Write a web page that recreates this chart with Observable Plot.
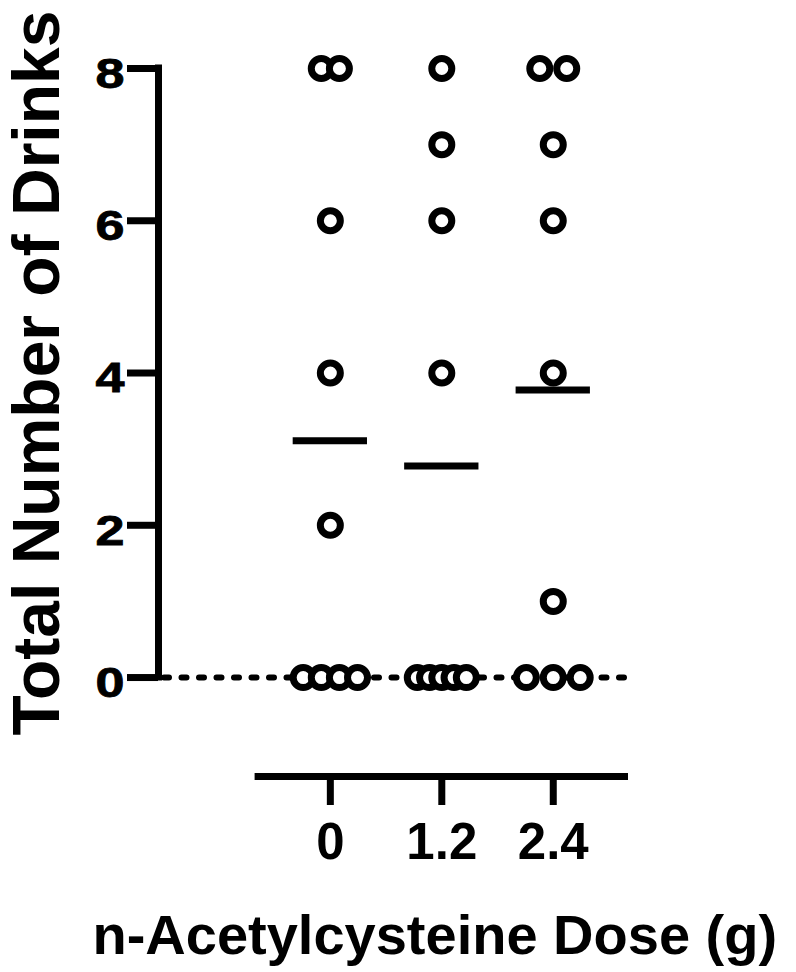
<!DOCTYPE html>
<html>
<head>
<meta charset="utf-8">
<script src="https://cdn.jsdelivr.net/npm/d3@7"></script>
<script src="https://cdn.jsdelivr.net/npm/@observablehq/plot@0.6"></script>
<style>
  html, body { margin: 0; padding: 0; background: white; }
</style>
</head>
<body>
<div id="chart"></div>
<script>
// ---- data ----
const doses = [0, 1.2, 2.4];
const doseLabels = ["0", "1.2", "2.4"];
const drinksDose0 = [8, 8, 6, 4, 2, 0, 0, 0, 0];
const drinksDose12 = [8, 7, 6, 4, 0, 0, 0, 0, 0];
const drinksDose24 = [8, 8, 7, 6, 4, 1, 0, 0, 0];
const yTicks = [0, 2, 4, 6, 8];
const yTickLabels = ["0", "2", "4", "6", "8"];
const xTitle = "n-Acetylcysteine Dose (g)";
const yTitle = "Total Number of Drinks";

// ---- layout / style constants ----
const xDomain = [-1.85, 3.21];
const yDomain = [-1.3, 8];
const xAxisLineStart = -0.81;
const jitterStep = [0.195, 0.132, 0.29]; // horizontal spread of tied points (dose units)
const meanHalfWidth = 0.4;
const font = "'Liberation Sans', Arial, Helvetica, sans-serif";

const groups = [drinksDose0, drinksDose12, drinksDose24];
const points = [];
groups.forEach((vals, g) => {
  const counts = d3.rollup(vals, v => v.length, v => v);
  const seen = new Map();
  vals.forEach(v => {
    const k = counts.get(v);
    const i = seen.get(v) ?? 0;
    seen.set(v, i + 1);
    points.push({dose: doses[g], drinks: v, offset: (i - (k - 1) / 2) * jitterStep[g]});
  });
});
const means = groups.map((vals, g) => ({dose: doses[g], mean: d3.mean(vals)}));

const chart = Plot.plot({
  width: 796,
  height: 972,
  marginLeft: 158,
  marginRight: 168,
  marginTop: 68,
  marginBottom: 196,
  x: {domain: xDomain},
  y: {domain: yDomain},
  style: {fontFamily: font, fontWeight: "bold", color: "black", background: "white"},
  marks: [
    // dotted zero line
    Plot.ruleY([0], {x1: xDomain[0], x2: xDomain[1], stroke: "black", strokeWidth: 6,
      strokeDasharray: "5,12.5", strokeLinecap: "round", strokeDashoffset: -6}),
    // y axis line
    Plot.ruleX([xDomain[0]], {y1: d3.min(yTicks), y2: d3.max(yTicks), stroke: "black", strokeWidth: 7, strokeLinecap: "square"}),
    Plot.axisY(yTicks, {anchor: "left", tickSize: 31, tickPadding: 3, strokeWidth: 7, fontSize: 42,
      tickFormat: d => yTickLabels[yTicks.indexOf(d)], label: null}),
    // x axis line
    Plot.ruleY([yDomain[0]], {x1: xAxisLineStart, x2: xDomain[1], stroke: "black", strokeWidth: 7}),
    Plot.axisX(doses, {anchor: "bottom", tickSize: 29, tickPadding: 17, strokeWidth: 7, fontSize: 51,
      tickFormat: d => doseLabels[doses.indexOf(d)], label: null}),
    // points
    Plot.dot(points, {x: d => d.dose + d.offset, y: "drinks", r: 10, stroke: "black", strokeWidth: 7, fill: "white"}),
    // means
    Plot.ruleY(means, {y: "mean", x1: d => d.dose - meanHalfWidth, x2: d => d.dose + meanHalfWidth, stroke: "black", strokeWidth: 7}),
    // titles
    Plot.text([yTitle], {x: xDomain[0], y: (d3.min(yTicks) + d3.max(yTicks)) / 2, text: d => d, rotate: -90,
      dx: -100, lineAnchor: "bottom", textAnchor: "middle", fontSize: 66, fontWeight: "bold", fill: "black"}),
    Plot.text([xTitle], {x: doses[1], y: yDomain[0], text: d => d, dx: -7, dy: 177,
      lineAnchor: "bottom", textAnchor: "middle", fontSize: 56, fontWeight: "bold", fill: "black"})
  ]
});

// y tick labels: heavier, slightly widened glyphs as in the reference
d3.select(chart).selectAll('g[aria-label="y-axis tick label"] text')
  .attr("font-size", 42)
  .attr("dy", "0.14em")
  .attr("stroke", "black").attr("stroke-width", 0.8)
  .attr("textLength", 29).attr("lengthAdjust", "spacingAndGlyphs");

document.getElementById("chart").appendChild(chart);
</script>
</body>
</html>
